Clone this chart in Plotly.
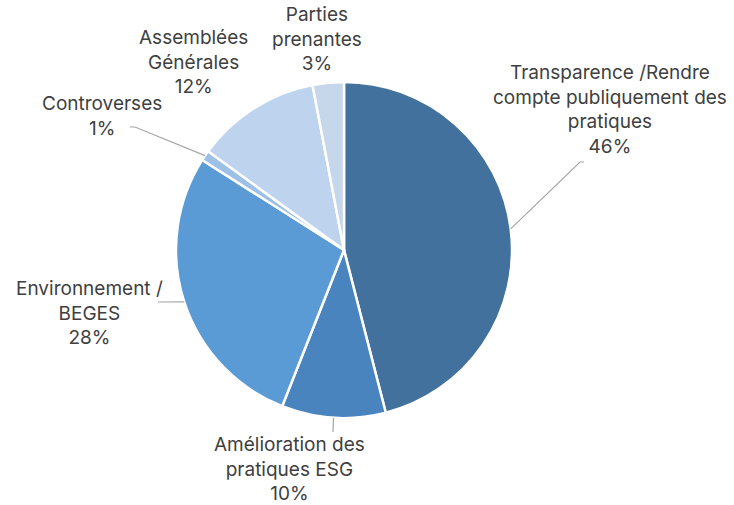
import numpy as np
import plotly.graph_objects as go

# Slice data, clockwise from 12 o'clock
labels = [
    "Transparence /Rendre compte publiquement des pratiques",
    "Amélioration des pratiques ESG",
    "Environnement / BEGES",
    "Controverses",
    "Assemblées Générales",
    "Parties prenantes",
]
label_text = [
    "Transparence /Rendre<br>compte publiquement des<br>pratiques",
    "Amélioration des<br>pratiques ESG",
    "Environnement /<br>BEGES",
    "Controverses",
    "Assemblées<br>Générales",
    "Parties<br>prenantes",
]
values = [46, 10, 28, 1, 12, 3]
colors = ["#41719C", "#4A84BF", "#5B9BD5", "#9DC0E6", "#BDD3EE", "#C6D6EB"]

W, H = 734, 505
CX, CY, R = 344, 250, 168

# label centres (px) and leader-line elbow points (px) per slice; None = no leader
label_pos = [(610, 110), (289, 469), (89, 313), (102, 116), (193, 62), (317, 39)]
elbows = [[(580, 162), (584, 162)], [(333, 432)], [(158, 302)], [(135, 127), (130, 127)], None, None]

fig = go.Figure(go.Pie(
    labels=labels,
    values=values,
    sort=False,
    direction="clockwise",
    rotation=0,
    textinfo="none",
    hoverinfo="label+percent",
    marker=dict(colors=colors, line=dict(color="white", width=2.5)),
    domain=dict(x=[(CX - R) / W, (CX + R) / W], y=[(H - CY - R) / H, (H - CY + R) / H]),
    showlegend=False,
))

def px2paper(x, y):
    return x / W, 1 - y / H

total = sum(values)
cum = np.cumsum([0] + values)
font = dict(family="Inter", size=19, color="#404040")

for i, v in enumerate(values):
    pct = round(100 * v / total)
    lx, ly = px2paper(*label_pos[i])
    fig.add_annotation(
        x=lx, y=ly, xref="paper", yref="paper",
        text=f"{label_text[i]}<br>{pct}%",
        showarrow=False, xanchor="center", yanchor="middle",
        align="center", font=font,
    )
    if elbows[i] is None:
        continue
    mid = 2 * np.pi * (cum[i] + v / 2) / total
    sx = CX + R * np.sin(mid)
    sy = CY - R * np.cos(mid)
    pts = [(sx, sy)] + elbows[i]
    path = "M " + " L ".join(f"{px2paper(x, y)[0]:.5f},{px2paper(x, y)[1]:.5f}" for x, y in pts)
    fig.add_shape(type="path", path=path, xref="paper", yref="paper",
                  line=dict(color="#A6A6A6", width=1.2))

fig.update_layout(
    width=W, height=H,
    margin=dict(l=0, r=0, t=0, b=0),
    paper_bgcolor="white", plot_bgcolor="white",
)

fig.write_html("out.html")
